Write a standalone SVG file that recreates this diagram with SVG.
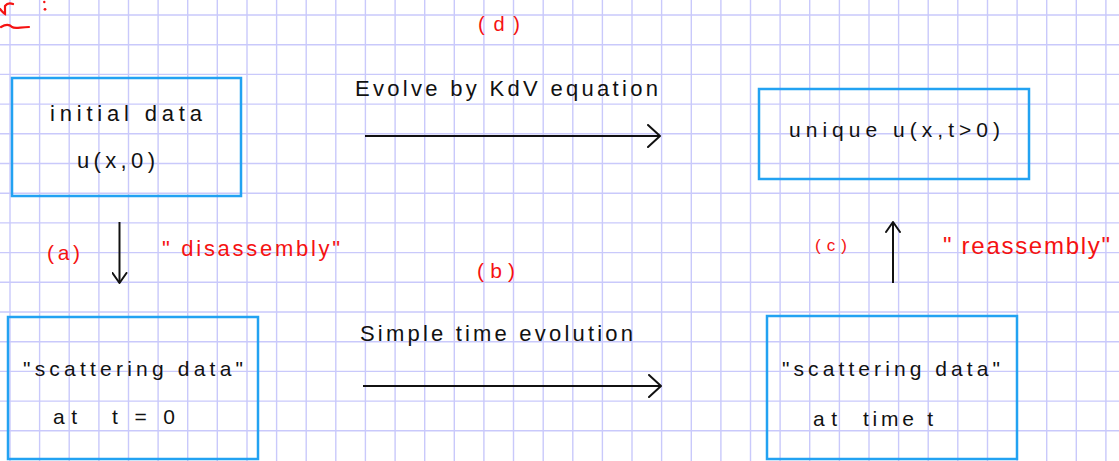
<svg xmlns="http://www.w3.org/2000/svg" width="1119" height="461" viewBox="0 0 1119 461">
<style>
.grid{stroke:#c9c9fb;stroke-width:1.4;fill:none}
.box{fill:none;stroke:#22a2f2;stroke-width:2.5}
.t{font-family:"Liberation Sans",Arial,sans-serif;fill:#111111}
.r{font-family:"Liberation Sans",Arial,sans-serif;fill:#f51212}
.arr{stroke:#111111;stroke-width:2;fill:none}
</style>
<defs>
<marker id="chevL" viewBox="0 0 14 24" markerWidth="14" markerHeight="24" refX="13" refY="12" orient="auto" markerUnits="userSpaceOnUse">
<path d="M1,1 L13,12 L1,23" fill="none" stroke="#111111" stroke-width="2" stroke-linecap="round" stroke-linejoin="round"/>
</marker>
<marker id="chevS" viewBox="0 0 12 16" markerWidth="12" markerHeight="16" refX="11" refY="8" orient="auto" markerUnits="userSpaceOnUse">
<path d="M1,1 L11,8 L1,15" fill="none" stroke="#111111" stroke-width="2" stroke-linecap="round" stroke-linejoin="round"/>
</marker>
</defs>
<rect width="1119" height="461" fill="#ffffff"/>
<path class="grid" d="M10 0V461M39.6 0V461M69.2 0V461M98.9 0V461M128.5 0V461M158.1 0V461M187.7 0V461M217.3 0V461M247 0V461M276.6 0V461M306.2 0V461M335.8 0V461M365.4 0V461M395.1 0V461M424.7 0V461M454.3 0V461M483.9 0V461M513.5 0V461M543.2 0V461M572.8 0V461M602.4 0V461M632 0V461M661.6 0V461M691.3 0V461M720.9 0V461M750.5 0V461M780.1 0V461M809.7 0V461M839.4 0V461M869 0V461M898.6 0V461M928.2 0V461M957.8 0V461M987.5 0V461M1017.1 0V461M1046.7 0V461M1076.3 0V461M1105.9 0V461
M0 15H1119M0 44.7H1119M0 74.4H1119M0 104.1H1119M0 133.8H1119M0 163.5H1119M0 193.2H1119M0 222.9H1119M0 252.6H1119M0 282.3H1119M0 312H1119M0 341.7H1119M0 371.4H1119M0 401.1H1119M0 430.8H1119"/>

<g id="corner-mark" fill="none" stroke="#f51212" stroke-width="2.2" stroke-linecap="round">
<path d="M0,9 Q3,13 5,14 L5,6 Q8,2 13,4"/>
<circle cx="44.3" cy="2" r="1.2" fill="#f51212" stroke="none"/>
<circle cx="45" cy="9.3" r="1.4" fill="#f51212" stroke="none"/>
<path d="M1,27 C6,24 9,24 12,27 C15,29 20,27 29,27"/>
</g>

<g id="node-initial">
<rect class="box" x="12" y="78" width="229" height="118"/>
<text class="t" x="50" y="121" font-size="22" textLength="152" lengthAdjust="spacing">initial data</text>
<text class="t" x="77" y="168" font-size="22" textLength="78" lengthAdjust="spacing">u(x,0)</text>
</g>

<g id="node-unique">
<rect class="box" x="759" y="89" width="270" height="90"/>
<text class="t" x="789" y="137" font-size="21" textLength="211" lengthAdjust="spacing">unique u(x,t&gt;0)</text>
</g>

<g id="node-scatter0">
<rect class="box" x="8" y="317" width="250" height="142"/>
<text class="t" x="23" y="376" font-size="21" textLength="220" lengthAdjust="spacing">"scattering data"</text>
<text class="t" x="53" y="424" font-size="21" textLength="24" lengthAdjust="spacing">at</text>
<text class="t" x="112" y="424" font-size="21" textLength="63" lengthAdjust="spacing">t = 0</text>
</g>

<g id="node-scatterT">
<rect class="box" x="767" y="316" width="250" height="143"/>
<text class="t" x="782" y="376" font-size="21" textLength="218" lengthAdjust="spacing">"scattering data"</text>
<text class="t" x="813" y="426" font-size="21" textLength="24" lengthAdjust="spacing">at</text>
<text class="t" x="863" y="426" font-size="21" textLength="70" lengthAdjust="spacing">time t</text>
</g>

<g id="connectors">
<line class="arr" x1="365" y1="136" x2="660" y2="136" marker-end="url(#chevL)"/>
<line class="arr" x1="363" y1="386" x2="661" y2="386" marker-end="url(#chevL)"/>
<line class="arr" x1="119.5" y1="222" x2="119.5" y2="283" marker-end="url(#chevS)"/>
<line class="arr" x1="893" y1="283" x2="893" y2="222" marker-end="url(#chevS)"/>
</g>

<g id="labels">
<text class="r" x="478" y="31" font-size="20" textLength="42" lengthAdjust="spacing">(d)</text>
<text class="t" x="355" y="96" font-size="22" textLength="303" lengthAdjust="spacing">Evolve by KdV equation</text>
<text class="r" x="47" y="260" font-size="21" textLength="33" lengthAdjust="spacing">(a)</text>
<text class="r" x="162" y="256" font-size="22" textLength="178" lengthAdjust="spacing">" disassembly"</text>
<text class="r" x="477" y="278" font-size="21" textLength="38" lengthAdjust="spacing">(b)</text>
<text class="t" x="360" y="341" font-size="22" textLength="273" lengthAdjust="spacing">Simple time evolution</text>
<text class="r" x="815" y="251" font-size="17" textLength="32" lengthAdjust="spacing">(c)</text>
<text class="r" x="943" y="254" font-size="24" textLength="167" lengthAdjust="spacing">" reassembly"</text>
</g>
</svg>
